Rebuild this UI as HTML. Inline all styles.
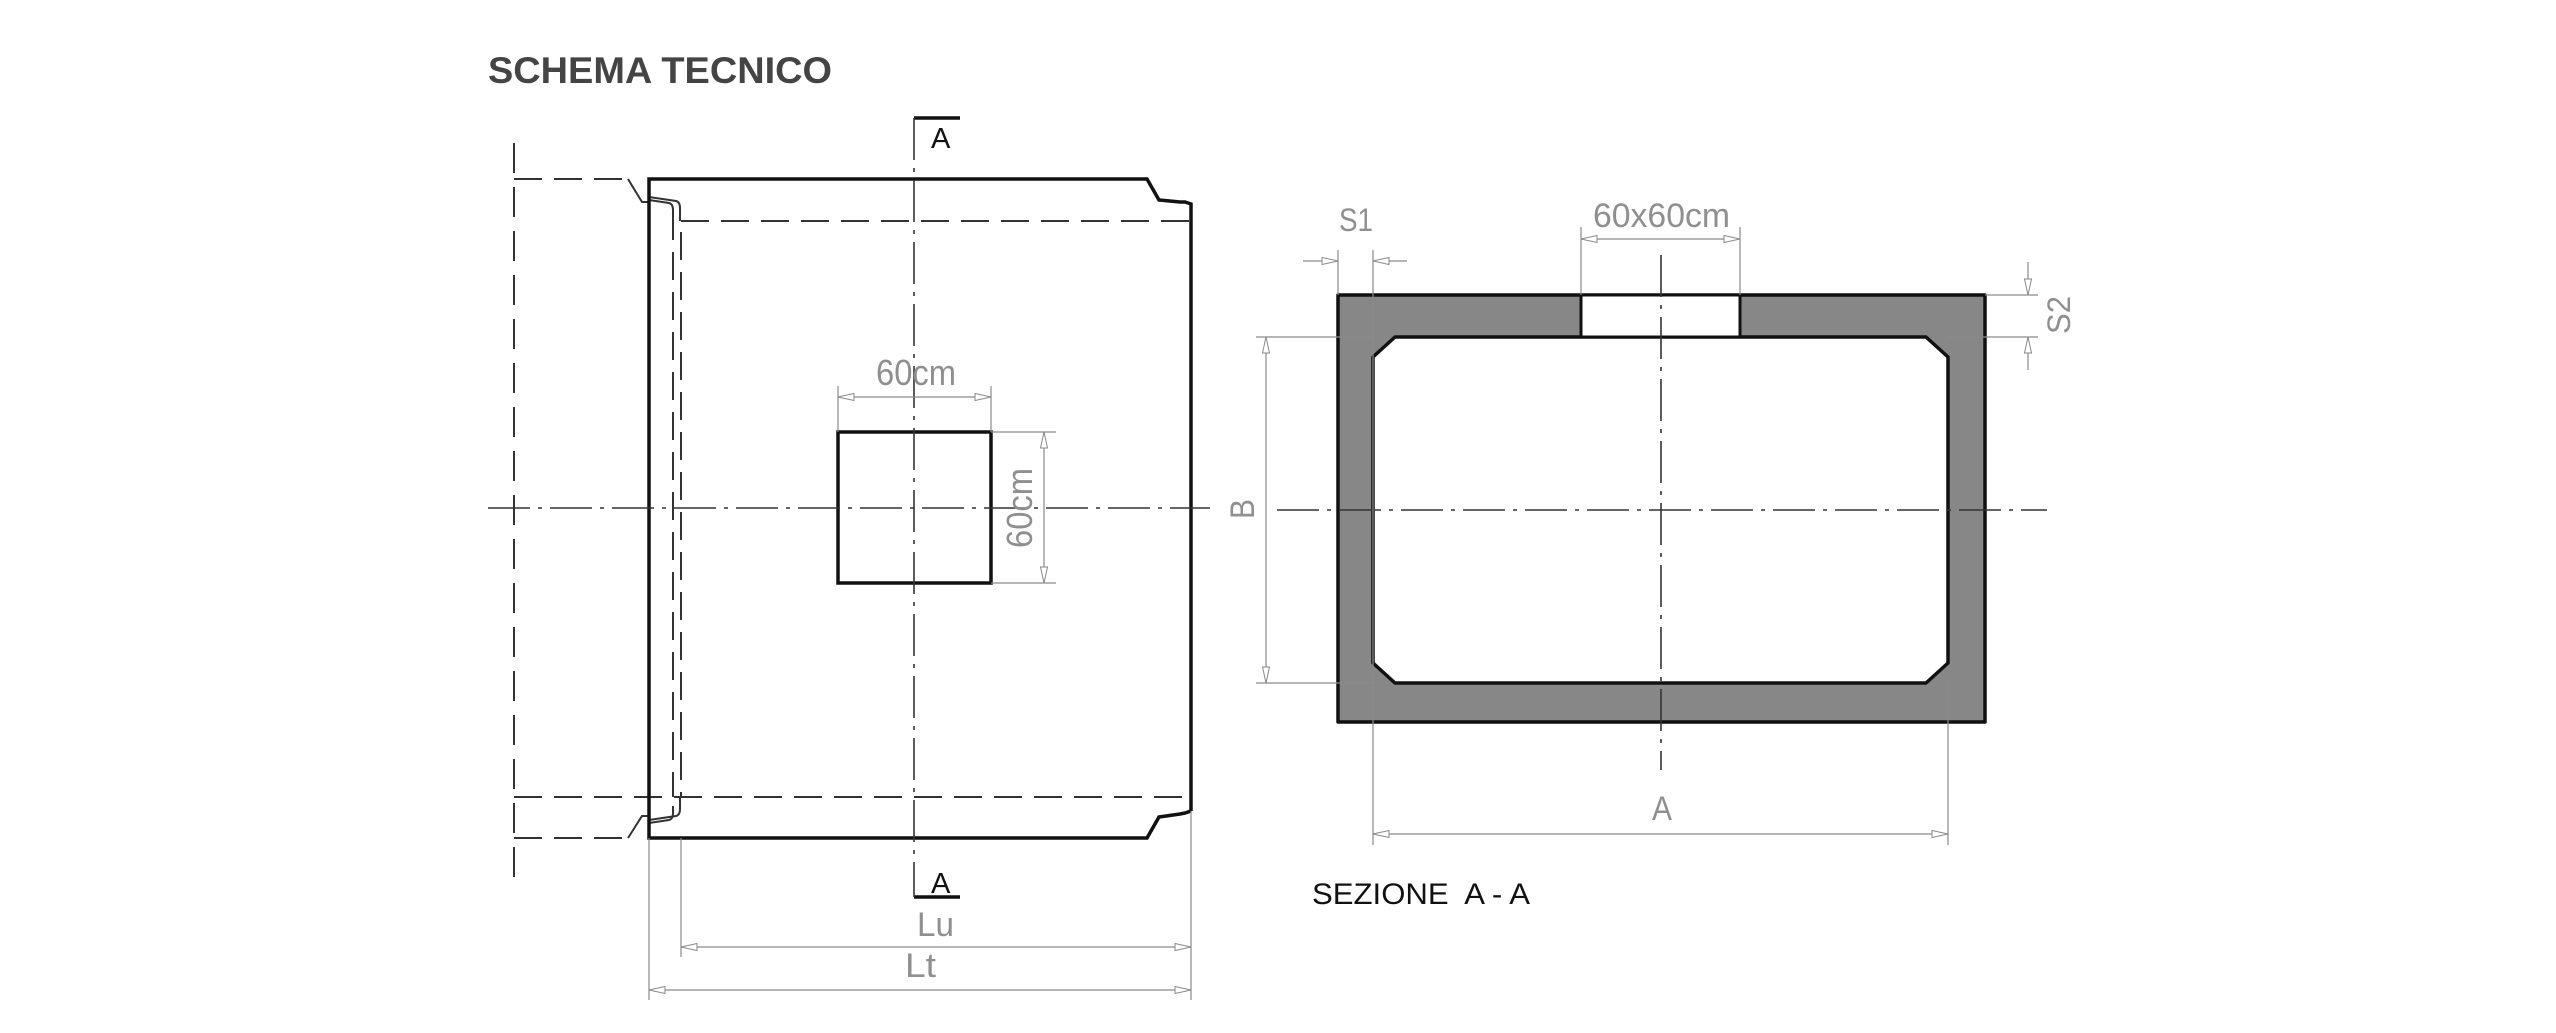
<!DOCTYPE html>
<html><head><meta charset="utf-8"><style>
html,body{margin:0;padding:0;background:#fff;}
svg{display:block;}
.dim{font-family:"Liberation Sans",sans-serif;fill:#8f8f8f;}
</style></head><body>
<svg width="2556" height="1033" viewBox="0 0 2556 1033" xmlns="http://www.w3.org/2000/svg">
<defs>
<marker id="ar" viewBox="-18 -5 19 10" markerWidth="19" markerHeight="10" refX="0" refY="0" orient="auto-start-reverse" markerUnits="userSpaceOnUse">
<path d="M0,0 L-16,-3.5 L-16,3.5 Z" fill="#fff" stroke="#8a8a8a" stroke-width="1"/>
</marker>
</defs>
<text x="488" y="83" font-family="Liberation Sans, sans-serif" font-weight="bold" font-size="37" fill="#444" textLength="344" lengthAdjust="spacingAndGlyphs">SCHEMA TECNICO</text>

<!-- LEFT VIEW -->
<g fill="none" stroke="#333" stroke-width="2" stroke-dasharray="28,12">
<line x1="514" y1="143" x2="514" y2="888" stroke-dasharray="30,14"/>
<line x1="681" y1="221" x2="1191" y2="221"/>
<line x1="514" y1="797" x2="1191" y2="797"/>
<line x1="673" y1="212" x2="673" y2="797"/>
<line x1="681" y1="232" x2="681" y2="797"/>
<line x1="514" y1="179" x2="628" y2="179"/>
<line x1="514" y1="838" x2="628" y2="838"/>
</g>
<g fill="none" stroke="#333" stroke-width="2">
<polyline points="628,179 642,202 649,202"/>
<polyline points="628,838 642,816 649,816"/>
<path d="M649,197 L676,201 Q680,202 680,208 L680,221"/>
<path d="M649,200 L669,203 Q673,204 673,210 L673,216"/>
<path d="M649,820 L676,816 Q680,815 680,809 L680,797"/>
<path d="M649,823 L669,820 Q673,819 673,813 L673,806"/>
</g>
<g fill="none" stroke="#111" stroke-width="3.5">
<polyline points="1191,811 1191,204 1185,202 1180,202 1159,200 1147,179 649,179 649,838 1147,838 1159,817 1180,814 1185,813 1191,811"/>
<rect x="838" y="432" width="153" height="151"/>
<polyline points="914,118 960,118"/>
<polyline points="914,897 960,897"/>
</g>
<g fill="none" stroke="#333" stroke-width="1.6" stroke-dasharray="42,8,4,8">
<line x1="914" y1="118" x2="914" y2="897"/>
<line x1="488" y1="508" x2="1210" y2="508"/>
</g>
<text x="931" y="148" font-family="Liberation Sans, sans-serif" font-size="29" fill="#111">A</text>
<text x="931" y="893" font-family="Liberation Sans, sans-serif" font-size="29" fill="#111">A</text>

<!-- dims left -->
<g stroke="#8a8a8a" stroke-width="1.2" fill="none">
<line x1="838" y1="386" x2="838" y2="432"/>
<line x1="991" y1="386" x2="991" y2="432"/>
<line x1="838" y1="397" x2="991" y2="397" marker-start="url(#ar)" marker-end="url(#ar)"/>
<line x1="991" y1="432" x2="1056" y2="432"/>
<line x1="991" y1="583" x2="1056" y2="583"/>
<line x1="1044" y1="432" x2="1044" y2="583" marker-start="url(#ar)" marker-end="url(#ar)"/>
<line x1="649" y1="838" x2="649" y2="1000"/>
<line x1="681" y1="838" x2="681" y2="957"/>
<line x1="1191" y1="811" x2="1191" y2="1000"/>
<line x1="681" y1="947" x2="1191" y2="947" marker-start="url(#ar)" marker-end="url(#ar)"/>
<line x1="649" y1="990" x2="1191" y2="990" marker-start="url(#ar)" marker-end="url(#ar)"/>
</g>
<text class="dim" x="876" y="385" font-size="36" textLength="80" lengthAdjust="spacingAndGlyphs">60cm</text>
<text class="dim" transform="translate(1032,548) rotate(-90)" font-size="36" textLength="80" lengthAdjust="spacingAndGlyphs">60cm</text>
<text class="dim" x="917" y="936" font-size="34" textLength="37" lengthAdjust="spacingAndGlyphs">Lu</text>
<text class="dim" x="905" y="977" font-size="34" textLength="31" lengthAdjust="spacingAndGlyphs">Lt</text>

<!-- SECTION -->
<path fill-rule="evenodd" fill="#878787" stroke="#111" stroke-width="3.5" stroke-linejoin="round"
d="M1338,295 L1985,295 L1985,722 L1338,722 Z M1395,337 L1926,337 L1948,357 L1948,663 L1926,683 L1395,683 L1373,663 L1373,357 Z"/>
<rect x="1581" y="295" width="159" height="42" fill="#fff" stroke="#111" stroke-width="3"/>
<g fill="none" stroke="#333" stroke-width="1.6" stroke-dasharray="42,8,4,8">
<line x1="1661" y1="255" x2="1661" y2="770"/>
<line x1="1277" y1="510" x2="2047" y2="510"/>
</g>
<g stroke="#8a8a8a" stroke-width="1.2" fill="none">
<line x1="1338" y1="250" x2="1338" y2="295"/>
<line x1="1373" y1="250" x2="1373" y2="845"/>
<line x1="1948" y1="683" x2="1948" y2="845"/>
<line x1="1303" y1="261" x2="1338" y2="261" marker-end="url(#ar)"/>
<line x1="1407" y1="261" x2="1373" y2="261" marker-end="url(#ar)"/>
<line x1="1581" y1="227" x2="1581" y2="295"/>
<line x1="1740" y1="227" x2="1740" y2="295"/>
<line x1="1581" y1="239" x2="1740" y2="239" marker-start="url(#ar)" marker-end="url(#ar)"/>
<line x1="1985" y1="295" x2="2038" y2="295"/>
<line x1="1948" y1="337" x2="2038" y2="337"/>
<line x1="2028" y1="262" x2="2028" y2="295" marker-end="url(#ar)"/>
<line x1="2028" y1="370" x2="2028" y2="337" marker-end="url(#ar)"/>
<line x1="1256" y1="337" x2="1373" y2="337"/>
<line x1="1256" y1="683" x2="1373" y2="683"/>
<line x1="1266" y1="337" x2="1266" y2="683" marker-start="url(#ar)" marker-end="url(#ar)"/>
<line x1="1373" y1="834" x2="1948" y2="834" marker-start="url(#ar)" marker-end="url(#ar)"/>
</g>
<text class="dim" x="1339" y="231" font-size="32" textLength="34" lengthAdjust="spacingAndGlyphs">S1</text>
<text class="dim" x="1593" y="227" font-size="34" textLength="137" lengthAdjust="spacingAndGlyphs">60x60cm</text>
<text class="dim" transform="translate(2070,334) rotate(-90)" font-size="32" textLength="38" lengthAdjust="spacingAndGlyphs">S2</text>
<text class="dim" transform="translate(1254,519) rotate(-90)" font-size="34" textLength="20" lengthAdjust="spacingAndGlyphs">B</text>
<text class="dim" x="1652" y="820" font-size="34" textLength="20" lengthAdjust="spacingAndGlyphs">A</text>
<text x="1312" y="904" font-family="Liberation Sans, sans-serif" font-size="30" fill="#111" textLength="218" lengthAdjust="spacingAndGlyphs" xml:space="preserve">SEZIONE  A - A</text>
</svg>
</body></html>
